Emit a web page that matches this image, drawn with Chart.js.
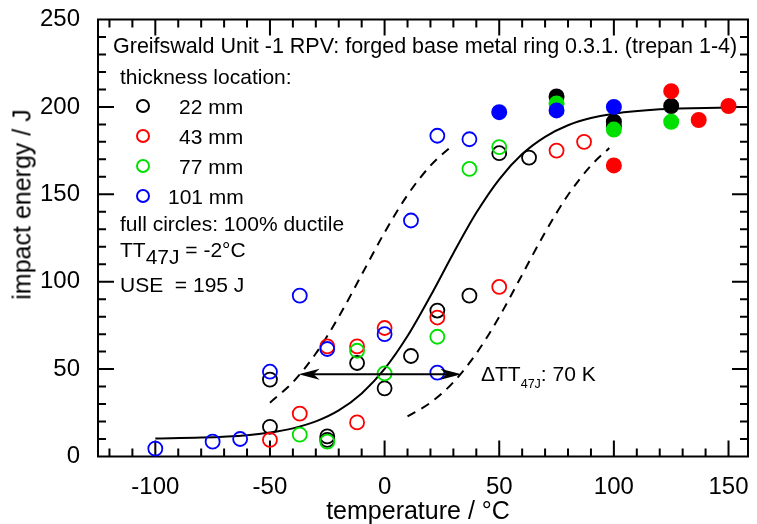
<!DOCTYPE html>
<html><head><meta charset="utf-8">
<script src="https://cdn.jsdelivr.net/npm/chart.js@4.4.1/dist/chart.umd.min.js"></script>
<style>
html,body{margin:0;padding:0;background:#fff;}
#wrap{position:relative;width:757px;height:524px;overflow:hidden;font-family:"Liberation Sans",Arial,sans-serif;color:#000;}
#c{position:absolute;left:0;top:0;}
.t{position:absolute;white-space:pre;font-size:21px;line-height:21px;}
.sub{position:relative;top:7px;}
.ssub{position:relative;top:7px;font-size:12.5px;}
.mk{position:absolute;width:10px;height:10px;border:2px solid;border-radius:50%;}
.ax{position:absolute;white-space:pre;font-size:25px;line-height:25px;text-align:center;}
</style></head><body>
<div id="wrap">
<canvas id="c" width="757" height="524"></canvas>
<div class="t" style="left:113px;top:36px;font-size:21.5px">Greifswald Unit -1 RPV: forged base metal ring 0.3.1. (trepan 1-4)</div>
<div class="t" style="left:120px;top:66px">thickness location:</div>
<div class="mk" style="left:136px;top:99px;border-color:#000"></div>
<div class="t" style="left:179px;top:96px">22 mm</div>
<div class="mk" style="left:136px;top:129px;border-color:#ff0000"></div>
<div class="t" style="left:179px;top:126px">43 mm</div>
<div class="mk" style="left:136px;top:159px;border-color:#00e000"></div>
<div class="t" style="left:179px;top:156px">77 mm</div>
<div class="mk" style="left:136px;top:189px;border-color:#0000ff"></div>
<div class="t" style="left:168px;top:186px">101 mm</div>
<div class="t" style="left:120px;top:213px">full circles: 100% ductile</div>
<div class="t" style="left:120px;top:239px">TT<span class="sub">47J</span> = -2°C</div>
<div class="t" style="left:120px;top:274px">USE  = 195 J</div>
<div class="t" style="left:481px;top:363px">ΔTT<span class="ssub">47J</span>: 70 K</div>
<div class="ax" style="left:268px;top:498px;width:300px">temperature / °C</div>
<div class="ax" style="left:-128px;top:192px;width:300px;transform:rotate(-90deg)">impact energy / J</div>
</div>
<script>
// ---- data ----
const xTicks = [-100, -50, 0, 50, 100, 150];
const yTicks = [0, 50, 100, 150, 200, 250];
const thickness = ['22 mm', '43 mm', '77 mm', '101 mm'];

// open circles (not fully ductile)
const t22Open = [-50, -50, -25, -25, -12, 0, 11.5, 23, 37, 50, 63];
const e22Open = [44, 17, 11.5, 9.5, 53.5, 39, 57.5, 83.5, 92, 173.5, 171];
const t43Open = [-50, -37, -25, -12, -12, 0, 23, 50, 75, 87];
const e43Open = [9.5, 24.5, 63, 63, 19.5, 73.5, 79.5, 97, 175, 180];
const t77Open = [-37, -25, -12, 0, 23, 37, 50];
const e77Open = [12.5, 8.5, 60.5, 47.5, 68.5, 164.5, 177];
const t101Open = [-100, -75, -63, -50, -37, -25, 0, 11.5, 23, 23, 37];
const e101Open = [4.5, 8.5, 10, 48.5, 92, 61.5, 70, 135, 183.5, 48, 181.5];

// full circles (100% ductile)
const t22Full = [75, 100, 100, 125];
const e22Full = [206, 191.5, 189, 200.5];
const t43Full = [100, 125, 137, 150];
const e43Full = [166.5, 209, 192.5, 200.5];
const t77Full = [75, 100, 125];
const e77Full = [202, 187, 191.5];
const t101Full = [50, 75, 100];
const e101Full = [197, 198, 200];

// fitted transition curve and scatter band
const fitT = [-100, -80, -60, -50, -40, -30, -20, -10, 0, 10, 20, 30, 40, 50, 60, 70, 80, 90, 100, 120, 150];
const fitE = [10.3, 10.8, 12.2, 13.7, 16.1, 20.1, 26.4, 36.1, 50.1, 68.9, 91.8, 116.3, 139.4, 158.6, 173.0, 182.9, 189.5, 193.6, 196.1, 198.6, 199.7];
const lowBandT = [-50, -40, -30, -20, -10, 0, 10, 20, 30];
const lowBandE = [30.8, 42.5, 58.9, 79.9, 104, 128.2, 149.6, 166.4, 178.5];
const highBandT = [10, 20, 30, 40, 50, 60, 70, 80, 90, 98];
const highBandE = [22.9, 30.8, 42.5, 58.9, 79.9, 104, 128.2, 149.6, 166.4, 176.5];

// delta TT47J arrow
const arrowE = 47;
const arrowT = [-37.5, 33.5];

// ---- chart ----
const pts = (xs, ys) => xs.map((x, i) => ({x: x, y: ys[i]}));
const COL = {'22 mm': '#000000', '43 mm': '#ff0000', '77 mm': '#00e000', '101 mm': '#0000ff'};
const ORD = {'22 mm': 4, '43 mm': 3, '77 mm': 2, '101 mm': 1};
const openSets = [[t22Open, e22Open], [t43Open, e43Open], [t77Open, e77Open], [t101Open, e101Open]];
const fullSets = [[t22Full, e22Full], [t43Full, e43Full], [t77Full, e77Full], [t101Full, e101Full]];

const datasets = [];
thickness.forEach((name, i) => {
  datasets.push({
    label: name + ' open', data: pts(openSets[i][0], openSets[i][1]), showLine: false,
    pointRadius: 7, pointBorderWidth: 1.8, pointBorderColor: COL[name],
    pointBackgroundColor: 'rgba(0,0,0,0)', order: ORD[name], clip: false
  });
  datasets.push({
    label: name + ' full', data: pts(fullSets[i][0], fullSets[i][1]), showLine: false,
    pointRadius: 7, pointBorderWidth: 2, pointBorderColor: COL[name],
    pointBackgroundColor: COL[name], order: ORD[name], clip: false
  });
});
datasets.push({label: 'fit', data: pts(fitT, fitE), showLine: true, pointRadius: 0,
  borderColor: '#000', borderWidth: 2, cubicInterpolationMode: 'monotone', order: 10});
datasets.push({label: 'lower band', data: pts(lowBandT, lowBandE), showLine: true, pointRadius: 0,
  borderColor: '#000', borderWidth: 2, borderDash: [9, 7], cubicInterpolationMode: 'monotone', order: 10});
datasets.push({label: 'upper band', data: pts(highBandT, highBandE), showLine: true, pointRadius: 0,
  borderColor: '#000', borderWidth: 2, borderDash: [9, 7], cubicInterpolationMode: 'monotone', order: 10});

const framePlugin = {
  id: 'frame',
  beforeDatasetsDraw(chart) {
    const {ctx, chartArea: a, scales: {x, y}} = chart;
    ctx.save();
    ctx.strokeStyle = '#000';
    ctx.lineWidth = 2;
    ctx.strokeRect(a.left, a.top, a.right - a.left, a.bottom - a.top);
    ctx.beginPath();
    for (let v = -120; v <= 150; v += 10) {
      const px = x.getPixelForValue(v);
      const len = (v % 50 === 0) ? 16 : 8;
      ctx.moveTo(px, a.bottom); ctx.lineTo(px, a.bottom - len);
      ctx.moveTo(px, a.top); ctx.lineTo(px, a.top + len);
    }
    for (let v = 10; v < 250; v += 10) {
      const py = y.getPixelForValue(v);
      const len = (v % 50 === 0) ? 16 : 8;
      ctx.moveTo(a.left, py); ctx.lineTo(a.left + len, py);
      ctx.moveTo(a.right, py); ctx.lineTo(a.right - len, py);
    }
    ctx.stroke();
    ctx.restore();
  },
  afterDatasetsDraw(chart) {
    const {ctx, scales: {x, y}} = chart;
    const py = y.getPixelForValue(arrowE);
    const x1 = x.getPixelForValue(arrowT[0]);
    const x2 = x.getPixelForValue(arrowT[1]);
    ctx.save();
    ctx.strokeStyle = '#000'; ctx.fillStyle = '#000'; ctx.lineWidth = 2;
    ctx.beginPath(); ctx.moveTo(x1 + 10, py); ctx.lineTo(x2 - 10, py); ctx.stroke();
    const head = (tip, dir) => {
      ctx.beginPath();
      ctx.moveTo(tip, py);
      ctx.lineTo(tip + dir * 21, py - 5.5);
      ctx.lineTo(tip + dir * 15, py);
      ctx.lineTo(tip + dir * 21, py + 5.5);
      ctx.closePath(); ctx.fill();
    };
    head(x1, 1); head(x2, -1);
    ctx.restore();
  }
};

const zeroPad = s => { s.paddingTop = 0; s.paddingBottom = 0; s.paddingLeft = 0; s.paddingRight = 0; };

Chart.defaults.font.family = '"Liberation Sans", Arial, sans-serif';
new Chart(document.getElementById('c'), {
  type: 'scatter',
  data: {datasets: datasets},
  options: {
    responsive: false, animation: false, events: [],
    layout: {padding: {top: 19.5, right: 5, left: 0, bottom: 0}},
    plugins: {legend: {display: false}, tooltip: {enabled: false}},
    scales: {
      x: {
        type: 'linear', min: -125, max: 158.5,
        afterBuildTicks: s => { s.ticks = xTicks.map(v => ({value: v})); },
        afterFit: s => { s.height = 67.5; zeroPad(s); },
        grid: {display: false, drawTicks: false}, border: {display: false},
        ticks: {font: {size: 24}, color: '#000', padding: 16, maxRotation: 0, autoSkip: false}
      },
      y: {
        type: 'linear', min: 0, max: 250,
        afterBuildTicks: s => { s.ticks = yTicks.map(v => ({value: v})); },
        afterFit: s => { s.width = 98; zeroPad(s); },
        grid: {display: false, drawTicks: false}, border: {display: false},
        ticks: {font: {size: 24}, color: '#000', padding: 18, autoSkip: false}
      }
    }
  },
  plugins: [framePlugin]
});
</script>
</body></html>
